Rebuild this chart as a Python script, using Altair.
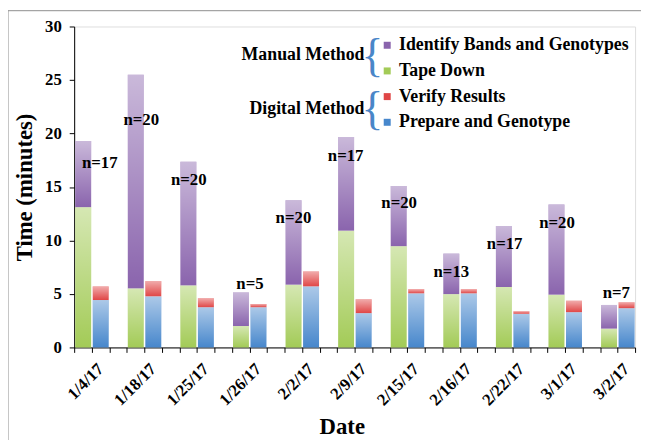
import json
import altair as alt
import pandas as pd

# ---- data ----
dates = ["1/4/17", "1/18/17", "1/25/17", "1/26/17", "2/2/17", "2/9/17",
         "2/15/17", "2/16/17", "2/22/17", "3/1/17", "3/2/17"]
tape_down = [13.1, 5.5, 5.8, 2.0, 5.85, 10.9, 9.45, 4.98, 5.66, 4.92, 1.75]
identify = [6.2, 20.0, 11.55, 3.14, 7.9, 8.76, 5.63, 3.79, 5.69, 8.43, 2.22]
prepare = [4.43, 4.77, 3.75, 3.75, 5.7, 3.2, 5.05, 5.05, 3.14, 3.29, 3.66]
verify = [1.27, 1.43, 0.85, 0.31, 1.4, 1.3, 0.4, 0.4, 0.24, 1.08, 0.56]
n_counts = [17, 20, 20, 5, 20, 17, 20, 13, 17, 20, 7]
# anchor of each "n=" label, in slot units / minutes
label_x = [1.46, 3.83, 6.54, 10.03, 12.51, 15.49, 18.54, 21.52, 24.56, 27.55, 30.93]
label_y = [17.2, 21.3, 15.6, 5.9, 12.1, 17.9, 13.5, 7.0, 9.7, 11.6, 5.1]

series_order = ["Identify Bands and Genotypes", "Tape Down",
                "Verify Results", "Prepare and Genotype"]
series_colors = ["#8a64ad", "#a3cb57", "#e04646", "#4787cc"]

n_slots = 3 * len(dates) - 1

rows = []
for i, d in enumerate(dates):
    m, g = 3 * i, 3 * i + 1
    rows.append(dict(date=d, series="Tape Down", x0=m, y0=0, y1=tape_down[i]))
    rows.append(dict(date=d, series="Identify Bands and Genotypes", x0=m,
                     y0=tape_down[i], y1=tape_down[i] + identify[i]))
    rows.append(dict(date=d, series="Prepare and Genotype", x0=g, y0=0, y1=prepare[i]))
    rows.append(dict(date=d, series="Verify Results", x0=g,
                     y0=prepare[i], y1=prepare[i] + verify[i]))
df = pd.DataFrame(rows)
df["xa"] = df["x0"] + 0.06
df["xb"] = df["x0"] + 0.97

lab = pd.DataFrame({"xa": label_x, "y0": label_y,
                    "txt": [f"n={n}" for n in n_counts]})

FONT = "Liberation Serif"

tick_vals = [float(v) for v in range(n_slots + 1)] + [3 * i + 1.5 for i in range(len(dates))]
label_expr = f"datum.value % 1 != 0 ? {json.dumps(dates)}[floor(datum.value / 3)] : ''"

x_axis = alt.Axis(values=tick_vals, labelExpr=label_expr, labelAngle=-45,
                  labelAlign="right", labelBaseline="middle",
                  labelOverlap=False, labelFlush=False,
                  labelFont=FONT, labelFontSize=17, labelFontWeight="bold",
                  labelColor="black", labelPadding=14,
                  tickSize=5, tickColor="black",
                  tickOpacity={"condition": {"test": "datum.value % 1 != 0", "value": 0}, "value": 1},
                  domainColor="black", grid=False,
                  title="Date", titleFont=FONT, titleFontSize=23,
                  titleFontWeight="bold", titleColor="black", titlePadding=8,
                  titleX=271, titleAlign="center")
y_axis = alt.Axis(values=[0, 5, 10, 15, 20, 25, 30], tickSize=5, tickColor="black",
                  domainColor="black", grid=False,
                  labelFont=FONT, labelFontSize=17, labelFontWeight="bold",
                  labelColor="black", labelPadding=8,
                  title="Time (minutes)", titleFont=FONT, titleFontSize=23,
                  titleFontWeight="bold", titleColor="black", titlePadding=8)

xs = alt.Scale(domain=[0, n_slots], nice=False, zero=False)
ys = alt.Scale(domain=[0, 30], nice=False)


def X():
    return alt.X("xa:Q", scale=xs, axis=x_axis, title="Date")


def Y():
    return alt.Y("y0:Q", scale=ys, axis=y_axis, title="Time (minutes)")


bars = alt.Chart(df).mark_bar().encode(
    x=X(), x2="xb:Q", y=Y(), y2="y1:Q",
    color=alt.Color("series:N",
                    scale=alt.Scale(domain=series_order, range=series_colors),
                    sort=series_order,
                    legend=alt.Legend(orient="none", legendX=308, legendY=10,
                                      title=None, padding=0,
                                      labelFont=FONT, labelFontSize=18,
                                      labelFontWeight="bold", labelColor="black",
                                      symbolType="square", symbolSize=50,
                                      symbolStrokeWidth=0, rowPadding=8,
                                      labelOffset=3, labelLimit=400)),
)

shade = alt.Chart(df).mark_bar(
    fill={"gradient": "linear", "x1": 0, "y1": 0, "x2": 0, "y2": 1,
          "stops": [{"offset": 0, "color": "rgba(255,255,255,0.55)"},
                    {"offset": 1, "color": "rgba(255,255,255,0)"}]}
).encode(x=X(), x2="xb:Q", y=Y(), y2="y1:Q")

nlabels = alt.Chart(lab).mark_text(font=FONT, fontSize=17, fontWeight="bold",
                                   color="black").encode(x=X(), y=Y(), text="txt:N")

one = pd.DataFrame({"k": [0]})
manual_txt = alt.Chart(one).mark_text(font=FONT, fontSize=18, fontWeight="bold",
                                      color="black", align="right", baseline="middle").encode(
    x=alt.value(294), y=alt.value(29), text=alt.value("Manual Method"))
digital_txt = alt.Chart(one).mark_text(font=FONT, fontSize=18, fontWeight="bold",
                                       color="black", align="right", baseline="middle").encode(
    x=alt.value(294), y=alt.value(84), text=alt.value("Digital Method"))
brace1 = alt.Chart(one).mark_text(font=FONT, fontSize=46, color="#4a86c8",
                                  align="center", baseline="middle").encode(
    x=alt.value(302), y=alt.value(31), text=alt.value("{"))
brace2 = alt.Chart(one).mark_text(font=FONT, fontSize=46, color="#4a86c8",
                                  align="center", baseline="middle").encode(
    x=alt.value(302), y=alt.value(85), text=alt.value("{"))

frame_v = alt.Chart(one).mark_rule(color="#8c8c8c", strokeWidth=1).encode(
    x=alt.value(-67), y=alt.value(-16), y2=alt.value(420))
frame_h = alt.Chart(one).mark_rule(color="#8c8c8c", strokeWidth=1).encode(
    x=alt.value(-67), x2=alt.value(580), y=alt.value(-16))

chart = alt.layer(bars, shade, nlabels, manual_txt, digital_txt, brace1, brace2,
                  frame_v, frame_h).properties(
    width=568, height=325,
    autosize=alt.AutoSizeParams(type="none"),
    padding={"left": 67, "top": 16, "right": 6, "bottom": 91},
).configure_view(stroke="#595959", strokeWidth=1).configure(font=FONT)

chart.save("out.html", embed_options={"renderer": "svg", "actions": False})
